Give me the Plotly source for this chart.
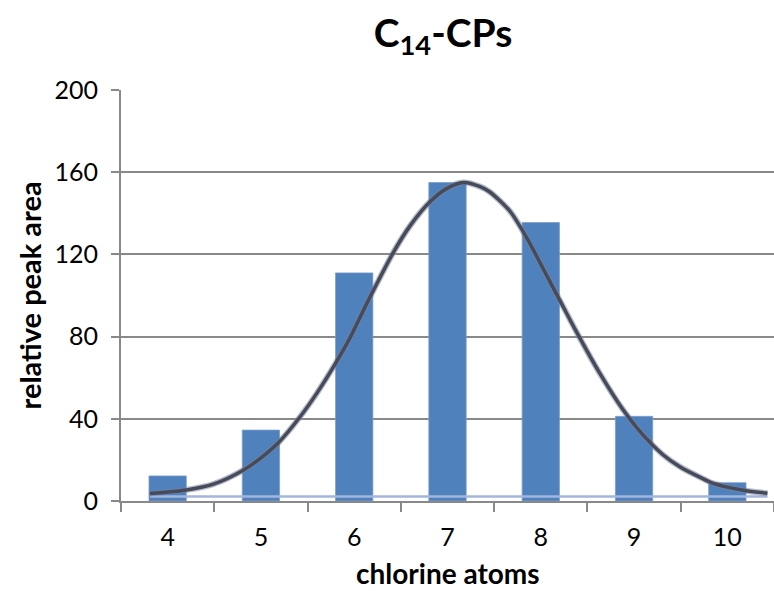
import plotly.graph_objects as go

# Relative peak area of C14 chlorinated paraffins by number of chlorine atoms
chlorine_atoms = [4, 5, 6, 7, 8, 9, 10]
peak_area = [12.2, 34.5, 111, 155, 135.5, 41.2, 8.9]

# Fitted distribution curve
fit_x = [3.81, 4.2, 4.49, 4.81, 5.0, 5.2, 5.42, 5.6, 5.8, 5.95, 6.15, 6.42, 6.6,
         6.81, 6.99, 7.17, 7.35, 7.45, 7.67, 7.85, 8.02, 8.2, 8.38, 8.63,
         8.88, 9.06, 9.31, 9.49, 9.71, 9.85, 10.2, 10.43]
fit_y = [3.7, 5.4, 8.2, 15, 21, 29, 41, 52.5, 67, 79, 97.5, 121, 134,
         145.5, 152, 155, 153, 150.5, 141, 128, 113.5, 98, 82.5, 62.3,
         44.5, 34, 22.5, 16.7, 11.5, 8.6, 5, 3.8]

# Baseline of the fit
base_x = [3.81, 10.43]
base_y = [2.2, 2.2]

y_ticks = [0, 40, 80, 120, 160, 200]
x_labels = ["4", "5", "6", "7", "8", "9", "10"]

GRID = "#898989"
FONT = "Lato"

fig = go.Figure()

fig.add_trace(go.Bar(
    x=chlorine_atoms, y=peak_area, width=0.4,
    marker=dict(color="#4F81BD", line=dict(color="#7C9DCB", width=0.8)),
    showlegend=False,
))

fig.add_trace(go.Scatter(
    x=base_x, y=base_y, mode="lines",
    line=dict(color="#A3B6DE", width=2.5),
    showlegend=False,
))

# soft halo under the fitted curve
fig.add_trace(go.Scatter(
    x=fit_x, y=fit_y, mode="lines",
    line=dict(color="rgba(120,130,165,0.55)", width=6, shape="spline", smoothing=0.8),
    showlegend=False,
))
fig.add_trace(go.Scatter(
    x=fit_x, y=fit_y, mode="lines",
    line=dict(color="#474B58", width=3.5, shape="spline", smoothing=0.8),
    showlegend=False,
))

fig.update_layout(
    width=774, height=591,
    margin=dict(l=121, r=0, t=90, b=90),
    paper_bgcolor="white", plot_bgcolor="white",
    font=dict(family=FONT, color="#000000", size=25),
    title=dict(
        text="<b>C<sub>14</sub>-CPs</b>",
        x=443 / 774, xanchor="center",
        y=1 - 33 / 591, yanchor="middle",
        font=dict(family=FONT, size=39, color="#000000"),
    ),
    bargap=0.6,
    annotations=[
        dict(text="<b>relative peak area</b>", textangle=-90,
             xref="paper", yref="paper", x=(29 - 121) / 653, y=0.5,
             xanchor="center", yanchor="middle", showarrow=False,
             font=dict(family=FONT, size=29, color="#000000")),
        dict(text="<b>chlorine atoms</b>",
             xref="paper", yref="paper", x=0.5, y=(501 - 573) / 411,
             xanchor="center", yanchor="middle", showarrow=False,
             font=dict(family=FONT, size=28, color="#000000")),
    ],
)

fig.update_xaxes(
    range=[3.5, 10.5],
    tickmode="array", tickvals=chlorine_atoms, ticktext=x_labels,
    ticks="", ticklabelstandoff=13,
    tickfont=dict(family=FONT, size=25, color="#000000"),
    showgrid=False, zeroline=False,
    showline=True, linecolor=GRID, linewidth=2,
    minor=dict(tickvals=[3.5, 4.5, 5.5, 6.5, 7.5, 8.5, 9.5, 10.5],
               ticks="outside", ticklen=9, tickwidth=2, tickcolor=GRID, showgrid=False),
)

fig.update_yaxes(
    range=[0, 200],
    tickmode="array", tickvals=y_ticks,
    ticks="outside", ticklen=8, tickwidth=2, tickcolor=GRID,
    ticklabelstandoff=8,
    tickfont=dict(family=FONT, size=25, color="#000000"),
    showgrid=True, gridcolor=GRID, gridwidth=2,
    zeroline=False,
    showline=True, linecolor=GRID, linewidth=2,
)

fig.write_html("out.html")
